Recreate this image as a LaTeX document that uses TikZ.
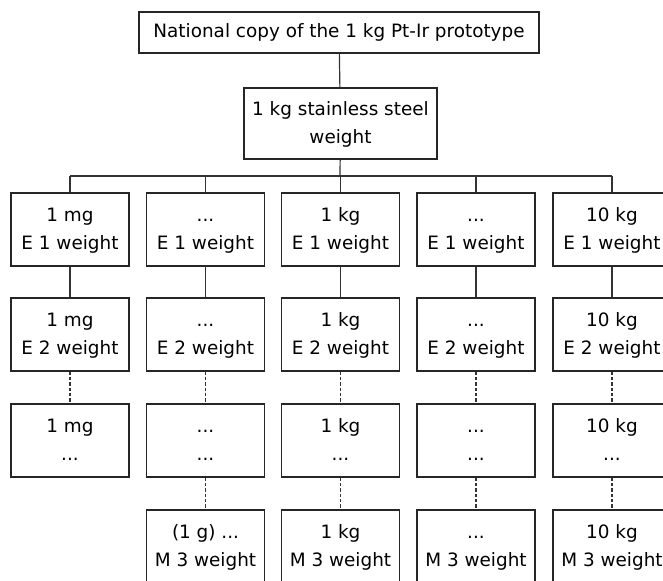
\documentclass[tikz,border=0pt]{standalone}
\usepackage{fontspec}
\setmainfont{DejaVu Sans}
\newcommand\twol[2]{\strut#1\\\strut#2}
\begin{document}
\begin{tikzpicture}[x=0.75pt,y=-0.75pt,
  wbox/.style={draw=black!85,line width=0.9pt,fill=white,minimum width=88.5pt,minimum height=54.75pt,align=center,inner sep=0pt,font=\fontsize{13.8}{21}\selectfont},
  conn/.style={draw=black!80,line width=0.9pt},
  dconn/.style={conn,dash pattern=on 2.5pt off 1.5pt}]
\useasboundingbox (0,0) rectangle (663,581);
\clip (0,0) rectangle (663,581);
\node[wbox,minimum width=300pt,minimum height=30.75pt] (top) at (339,32.5) {National copy of the 1 kg Pt-Ir prototype};
\node[wbox,minimum width=144.75pt,minimum height=53.25pt] (steel) at (340.5,123.5) {\twol{1 kg stainless steel}{weight}};
\coordinate (bus) at (340,176);
\node[wbox] (c1r1) at (70,229.5) {\twol{1 mg}{E 1 weight}};
\node[wbox] (c2r1) at (205.5,229.5) {\twol{...}{E 1 weight}};
\node[wbox] (c3r1) at (340.5,229.5) {\twol{1 kg}{E 1 weight}};
\node[wbox] (c4r1) at (476,229.5) {\twol{...}{E 1 weight}};
\node[wbox] (c5r1) at (612,229.5) {\twol{10 kg}{E 1 weight}};
\node[wbox] (c1r2) at (70,334.5) {\twol{1 mg}{E 2 weight}};
\node[wbox] (c2r2) at (205.5,334.5) {\twol{...}{E 2 weight}};
\node[wbox] (c3r2) at (340.5,334.5) {\twol{1 kg}{E 2 weight}};
\node[wbox] (c4r2) at (476,334.5) {\twol{...}{E 2 weight}};
\node[wbox] (c5r2) at (612,334.5) {\twol{10 kg}{E 2 weight}};
\node[wbox] (c1r3) at (70,440.5) {\twol{1 mg}{...}};
\node[wbox] (c2r3) at (205.5,440.5) {\twol{...}{...}};
\node[wbox] (c3r3) at (340.5,440.5) {\twol{1 kg}{...}};
\node[wbox] (c4r3) at (476,440.5) {\twol{...}{...}};
\node[wbox] (c5r3) at (612,440.5) {\twol{10 kg}{...}};
\node[wbox] (c2r4) at (205.5,546.5) {\twol{(1 g) ...}{M 3 weight}};
\node[wbox] (c3r4) at (340.5,546.5) {\twol{1 kg}{M 3 weight}};
\node[wbox] (c4r4) at (476,546.5) {\twol{...}{M 3 weight}};
\node[wbox] (c5r4) at (612,546.5) {\twol{10 kg}{M 3 weight}};
\draw[conn] (top) -- (steel);
\draw[conn] (steel) -- (bus);
\draw[conn] (c1r1.north |- bus) -- (c5r1.north |- bus);
\foreach \c in {1,...,5}{
  \draw[conn] (c\c r1.north) -- (c\c r1.north |- bus);
  \draw[conn] (c\c r1) -- (c\c r2);
  \draw[dconn] (c\c r2) -- (c\c r3);
}
\foreach \c in {2,...,5}{
  \draw[dconn] (c\c r3) -- (c\c r4);
}
\end{tikzpicture}
\end{document}
